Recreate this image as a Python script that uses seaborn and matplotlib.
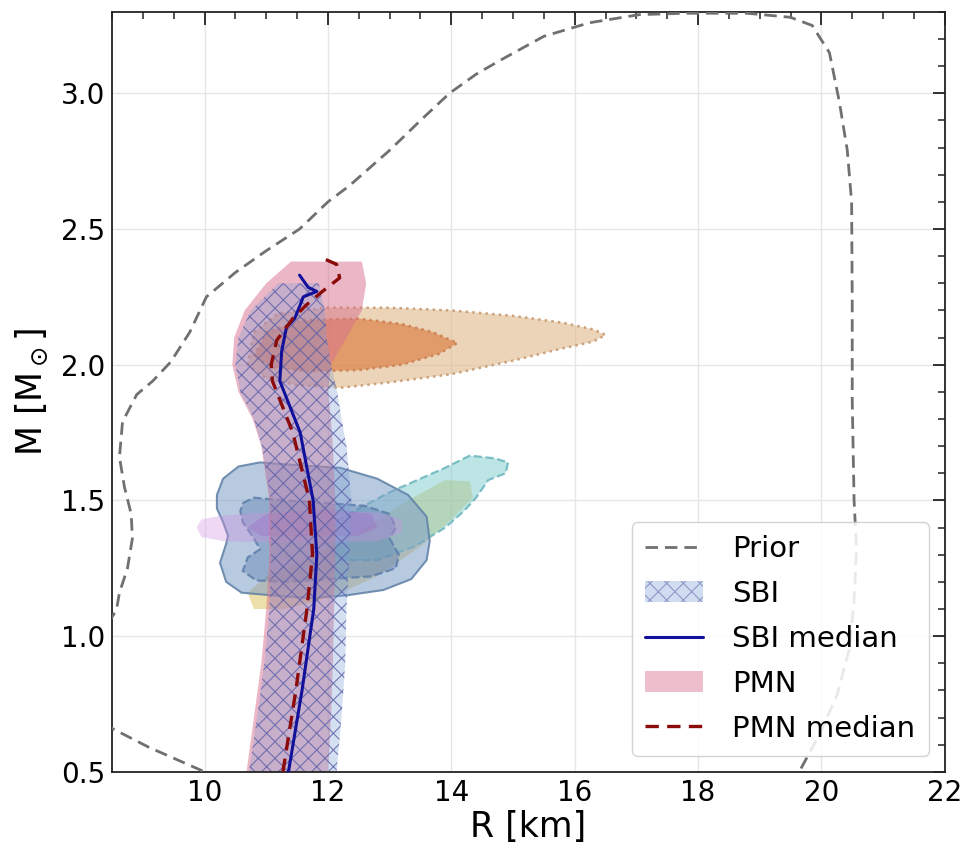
import numpy as np
import pandas as pd
import matplotlib
matplotlib.use("Agg")
import matplotlib.pyplot as plt
import matplotlib.colors as mcolors
from matplotlib.patches import Patch
from matplotlib.lines import Line2D
import seaborn as sns

# ---------------- data ----------------
prior_R = [10.4, 10.0, 9.55, 9.1, 8.5, 8.2, 8.3, 8.57, 8.62, 8.75, 8.83, 8.81, 8.7, 8.62,
           8.67, 8.9, 9.16, 9.45, 9.76, 10.03, 10.5, 11.0, 11.54, 12.0, 12.35, 13.0, 13.5,
           13.97, 14.4, 14.78, 15.5, 16.24, 17.05, 17.8, 18.8, 19.5, 19.85, 20.13, 20.29,
           20.42, 20.49, 20.5, 20.5, 20.53, 20.57, 20.53, 20.45, 20.25, 19.95, 19.64, 19.3]
prior_M = [0.40, 0.5, 0.545, 0.59, 0.66, 0.75, 1.0, 1.095, 1.16, 1.25, 1.36, 1.45, 1.55, 1.66,
           1.79, 1.89, 1.94, 2.01, 2.12, 2.25, 2.34, 2.42, 2.5, 2.6, 2.66, 2.79, 2.9,
           3.0, 3.07, 3.12, 3.21, 3.26, 3.29, 3.295, 3.295, 3.28, 3.25, 3.15, 2.97,
           2.79, 2.6, 2.235, 1.87, 1.5, 1.32, 1.13, 0.95, 0.78, 0.63, 0.5, 0.4]

pmn_M = [0.5, 0.7, 0.9, 1.1, 1.3, 1.5, 1.7, 1.8, 1.9, 2.0, 2.1, 2.2, 2.3, 2.38]
pmn_lo = [10.68, 10.8, 10.92, 11.0, 11.05, 11.05, 10.92, 10.78, 10.55, 10.45, 10.48, 10.65, 11.0, 11.4]
pmn_hi = [12.0, 12.05, 12.08, 12.1, 12.12, 12.12, 12.08, 12.05, 12.0, 12.05, 12.3, 12.55, 12.62, 12.55]

sbi_M = [0.5, 0.7, 0.9, 1.1, 1.3, 1.5, 1.7, 1.8, 1.9, 2.0, 2.1, 2.2, 2.3]
sbi_lo = [10.72, 10.85, 10.97, 11.05, 11.08, 11.07, 10.93, 10.8, 10.58, 10.5, 10.55, 10.75, 11.2]
sbi_hi = [12.14, 12.22, 12.28, 12.3, 12.35, 12.38, 12.3, 12.22, 12.15, 12.05, 11.98, 11.95, 11.85]

sbi_med_M = [0.5, 0.8, 1.1, 1.3, 1.5, 1.75, 1.94, 2.05, 2.14, 2.17, 2.22, 2.25, 2.27, 2.285, 2.33]
sbi_med_R = [11.36, 11.58, 11.77, 11.82, 11.76, 11.55, 11.22, 11.25, 11.33, 11.46, 11.55, 11.6, 11.82, 11.68, 11.54]

pmn_med_M = [0.5, 0.8, 1.1, 1.3, 1.5, 1.75, 1.94, 2.0, 2.09, 2.17, 2.22, 2.27, 2.32, 2.37, 2.39]
pmn_med_R = [11.27, 11.48, 11.66, 11.75, 11.70, 11.43, 11.1, 11.08, 11.17, 11.43, 11.65, 11.91, 12.19, 12.14, 11.94]

# observational contours
orange_out_R = [10.7, 10.8, 11.2, 12.0, 13.0, 14.0, 15.0, 15.8, 16.3, 16.5, 16.3, 15.8, 15.0, 14.0, 13.0, 12.2, 11.5, 11.0]
orange_out_M = [2.0, 2.12, 2.19, 2.21, 2.21, 2.2, 2.18, 2.155, 2.13, 2.11, 2.085, 2.06, 2.015, 1.965, 1.935, 1.915, 1.925, 1.95]
orange_in_R = [10.8, 11.0, 11.6, 12.5, 13.2, 13.7, 14.1, 13.8, 13.2, 12.5, 11.7, 11.1]
orange_in_M = [2.03, 2.12, 2.165, 2.17, 2.15, 2.12, 2.08, 2.04, 2.0, 1.98, 1.975, 1.99]

yellow_R = [10.8, 10.7, 11.0, 11.8, 12.6, 13.3, 13.9, 14.3, 14.35, 14.0, 13.5, 12.8, 12.0, 11.3]
yellow_M = [1.1, 1.16, 1.22, 1.3, 1.4, 1.5, 1.575, 1.57, 1.51, 1.43, 1.33, 1.22, 1.14, 1.1]

teal_R = [11.8, 12.5, 13.0, 13.4, 13.9, 14.3, 14.7, 14.92, 14.88, 14.6, 14.4, 14.2, 13.9, 13.4, 12.8, 12.2]
teal_M = [1.38, 1.47, 1.53, 1.57, 1.62, 1.665, 1.655, 1.64, 1.6, 1.575, 1.51, 1.46, 1.4, 1.33, 1.28, 1.28]

blue_out_R = [10.2, 10.3, 10.55, 10.9, 11.5, 12.2, 12.8, 13.3, 13.6, 13.65, 13.6, 13.35, 12.9, 12.3,
              11.7, 11.1, 10.6, 10.35, 10.25, 10.35, 10.38, 10.3, 10.2]
blue_out_M = [1.52, 1.58, 1.625, 1.64, 1.63, 1.62, 1.58, 1.52, 1.44, 1.35, 1.28, 1.21, 1.17, 1.15,
              1.14, 1.15, 1.16, 1.2, 1.27, 1.34, 1.37, 1.42, 1.47]
blue_in_R = [10.62, 10.8, 11.3, 12.0, 12.6, 13.0, 13.1, 13.0, 13.15, 13.1, 12.7, 12.0, 11.3, 10.84,
             10.62, 10.7, 10.9, 10.8, 10.62, 10.58]
blue_in_M = [1.49, 1.51, 1.5, 1.49, 1.48, 1.45, 1.4, 1.36, 1.3, 1.25, 1.22, 1.21, 1.2, 1.205,
             1.24, 1.29, 1.32, 1.36, 1.42, 1.46]

purple_out_R = [9.87, 9.95, 10.3, 11.0, 12.0, 12.8, 13.2, 13.2, 12.8, 12.0, 11.0, 10.3, 9.95]
purple_out_M = [1.4, 1.43, 1.445, 1.455, 1.46, 1.455, 1.43, 1.38, 1.35, 1.345, 1.345, 1.35, 1.365]
purple_in_R = [10.7, 11.0, 12.0, 12.7, 12.8, 12.5, 11.5, 10.9]
purple_in_M = [1.4, 1.45, 1.47, 1.45, 1.4, 1.37, 1.365, 1.37]

x_ticks = [10, 12, 14, 16, 18, 20, 22]
y_ticks = [0.5, 1.0, 1.5, 2.0, 2.5, 3.0]

# ---------------- style ----------------
sns.set_theme(style="white")
plt.rcParams["font.family"] = ["DejaVu Sans"]
plt.rcParams["hatch.linewidth"] = 0.8
plt.rcParams["text.color"] = "black"
plt.rcParams["axes.labelcolor"] = "black"

fig = plt.figure(figsize=(9.66, 8.5), dpi=100)
ax = fig.add_axes([0.116, 0.092, 0.862, 0.894])

def rgba(c, a):
    return mcolors.to_rgba(c, a)

# observational contours
ax.fill(orange_out_R, orange_out_M, facecolor=rgba("#deb887", 0.6),
        edgecolor=rgba("#c89a70", 0.9), linestyle=":", linewidth=1.8, zorder=1)
ax.fill(orange_in_R, orange_in_M, facecolor=rgba("#da6d2d", 0.55),
        edgecolor=rgba("#c87848", 0.8), linestyle=":", linewidth=1.8, zorder=1.1)
ax.fill(yellow_R, yellow_M, facecolor=rgba("#d8b840", 0.45),
        edgecolor="none", zorder=1.2)
ax.fill(teal_R, teal_M, facecolor=rgba("#7ccccc", 0.5),
        edgecolor=rgba("#70b8c0", 0.9), linestyle="--", linewidth=1.6, zorder=1.3)
ax.fill(blue_out_R, blue_out_M, facecolor=rgba("#7f9fc8", 0.55),
        edgecolor=rgba("#6585aa", 0.9), linestyle="-", linewidth=1.5, zorder=1.4)
ax.fill(blue_in_R, blue_in_M, facecolor=rgba("#5a7eae", 0.4),
        edgecolor=rgba("#6080ac", 0.9), linestyle="--", linewidth=1.6, zorder=1.5)
ax.fill(purple_out_R, purple_out_M, facecolor=rgba("#d090e0", 0.35),
        edgecolor="none", zorder=1.6)
ax.fill(purple_in_R, purple_in_M, facecolor=rgba("#9a60c0", 0.3),
        edgecolor="none", zorder=1.7)

# bands
ax.fill_betweenx(pmn_M, pmn_lo, pmn_hi, facecolor=rgba("#d8708e", 0.5),
                 edgecolor="none", linewidth=0, zorder=2)
ax.fill_betweenx(sbi_M, sbi_lo, sbi_hi, facecolor=rgba("#7b9fd6", 0.32),
                 edgecolor=rgba("#5a5ea8", 0.8), hatch="xx", linewidth=0, zorder=2.1)

# prior and medians through seaborn
sns.lineplot(x=prior_R, y=prior_M, sort=False, estimator=None, ax=ax,
             color="#707070", linestyle=(0, (4.5, 2.5)), linewidth=2.0, zorder=3)
sns.lineplot(x=sbi_med_R, y=sbi_med_M, sort=False, estimator=None, ax=ax,
             color="#10109a", linewidth=2.2, zorder=4)
sns.lineplot(x=pmn_med_R, y=pmn_med_M, sort=False, estimator=None, ax=ax,
             color="#8b0a0a", linestyle=(0, (4, 2.5)), linewidth=2.4, zorder=4.1)

ax.set_xlim(8.5, 22)
ax.set_ylim(0.5, 3.3)
ax.set_xticks(x_ticks)
ax.set_yticks(y_ticks)
ax.set_xticks(np.arange(8.5, 22.01, 0.5), minor=True)
ax.set_yticks(np.arange(0.5, 3.301, 0.1), minor=True)
ax.set_xticklabels([str(t) for t in x_ticks])
ax.set_yticklabels([f"{t:.1f}" for t in y_ticks])
ax.tick_params(which="both", direction="in", top=True, right=True, colors="#222222",
               labelcolor="black")
ax.tick_params(which="major", length=9, width=1.3, labelsize=20, pad=5)
ax.tick_params(which="minor", length=5, width=1.1)
ax.grid(True, which="major", color="#e6e6e6", linewidth=1.0, zorder=0)
ax.set_axisbelow(True)
for s in ax.spines.values():
    s.set_color("#222222")
    s.set_linewidth(1.3)

ax.set_xlabel("R [km]", fontsize=25, labelpad=2, color="black")
ax.set_ylabel(r"M [M$_\odot$]", fontsize=25, labelpad=8, color="black")

handles = [
    Line2D([], [], color="#707070", linestyle=(0, (4.5, 2.5)), linewidth=2.0),
    Patch(facecolor=rgba("#7b9fd6", 0.35), edgecolor=rgba("#5a5ea8", 0.55), hatch="xx", linewidth=0),
    Line2D([], [], color="#10109a", linewidth=2.2),
    Patch(facecolor=rgba("#d8708e", 0.45), edgecolor="none", linewidth=0),
    Line2D([], [], color="#8b0a0a", linestyle=(0, (4, 2.5)), linewidth=2.4),
]
labels = ["Prior", "SBI", "SBI median", "PMN", "PMN median"]
leg = ax.legend(handles, labels, loc="lower right", fontsize=21, frameon=True,
                fancybox=True, framealpha=0.85, edgecolor="#cccccc",
                handletextpad=1.0, labelspacing=0.58, borderpad=0.45,
                borderaxespad=0.55, handlelength=2.0)
for t in leg.get_texts():
    t.set_color("black")
leg.set_zorder(10)

fig.savefig("out.png", dpi=100)
